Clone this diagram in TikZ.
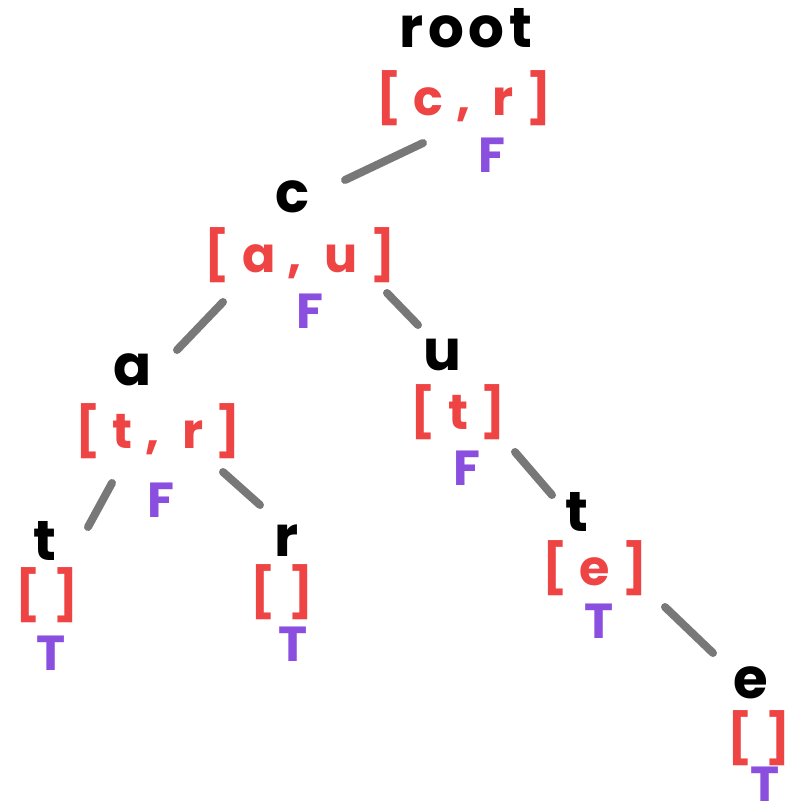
\documentclass[tikz,border=0pt]{standalone}
\usepackage{fontspec}
\setmainfont{Poppins}
\newfontfamily\keyfont{Poppins}[LetterSpace=8]
\newfontfamily\kidsfont{Poppins}[LetterSpace=25]
\definecolor{keyblack}{HTML}{000000}
\definecolor{kidsred}{HTML}{EF4444}
\definecolor{endpurple}{HTML}{8B4FE0}
\definecolor{linkgray}{HTML}{787878}
\tikzset{
  key/.style={inner sep=0pt, text=keyblack, font=\keyfont\bfseries\fontsize{40}{44}\selectfont},
  kids/.style={inner sep=0pt, text=kidsred, font=\kidsfont\bfseries\fontsize{35}{38}\selectfont},
  flag/.style={inner sep=0pt, text=endpurple, font=\bfseries\fontsize{35}{38}\selectfont},
  link/.style={draw=linkgray, line width=2mm, line cap=round}
}
\begin{document}
\begin{tikzpicture}[x=0.025cm, y=-0.025cm]
\useasboundingbox (0,0) rectangle (798,811);
% root
\node[key]  (root)      at (466,28)  {root};
\node[kids] (root-kids) at (464,98)  {[c, r]};
\node[flag] (root-end)  at (492,155) {F};
% c
\node[key]  (c)      at (293,197) {c};
\node[kids] (c-kids) at (300,255) {[a, u]};
\node[flag] (c-end)  at (310,311) {F};
% ca
\node[key]  (ca)      at (133,370) {a};
\node[kids] (ca-kids) at (158,431) {[t, r]};
\node[flag] (ca-end)  at (161,500) {F};
% cu
\node[key]  (cu)      at (442,355) {u};
\node[kids] (cu-kids) at (458,412) {[t]};
\node[flag] (cu-end)  at (467,468) {F};
% cat
\node[key]  (cat)      at (45,541)  {t};
\node[kids] (cat-kids) at (47,595)  {[]};
\node[flag] (cat-end)  at (51,653)  {T};
% car
\node[key]  (car)      at (287,541) {r};
\node[kids] (car-kids) at (282,592) {[]};
\node[flag] (car-end)  at (293,644) {T};
% cut
\node[key]  (cut)      at (577,512) {t};
\node[kids] (cut-kids) at (595,568) {[e]};
\node[flag] (cut-end)  at (599,621) {T};
% cute
\node[key]  (cute)      at (751,683) {e};
\node[kids] (cute-kids) at (759,738) {[]};
\node[flag] (cute-end)  at (765,784) {T};
% link ends
\coordinate (root-c1) at (423,143);  \coordinate (root-c2) at (345,180);
\coordinate (c-ca1)   at (223,302);  \coordinate (c-ca2)   at (177,350);
\coordinate (c-cu1)   at (387,293);  \coordinate (c-cu2)   at (418,325);
\coordinate (ca-cat1) at (112,483);  \coordinate (ca-cat2) at (88,527);
\coordinate (ca-car1) at (223,472);  \coordinate (ca-car2) at (260,505);
\coordinate (cu-cut1) at (515,452);  \coordinate (cu-cut2) at (552,495);
\coordinate (cut-cute1) at (665,607); \coordinate (cut-cute2) at (713,653);
\draw[link] (root-c1) -- (root-c2);
\draw[link] (c-ca1) -- (c-ca2);
\draw[link] (c-cu1) -- (c-cu2);
\draw[link] (ca-cat1) -- (ca-cat2);
\draw[link] (ca-car1) -- (ca-car2);
\draw[link] (cu-cut1) -- (cu-cut2);
\draw[link] (cut-cute1) -- (cut-cute2);
\end{tikzpicture}
\end{document}
